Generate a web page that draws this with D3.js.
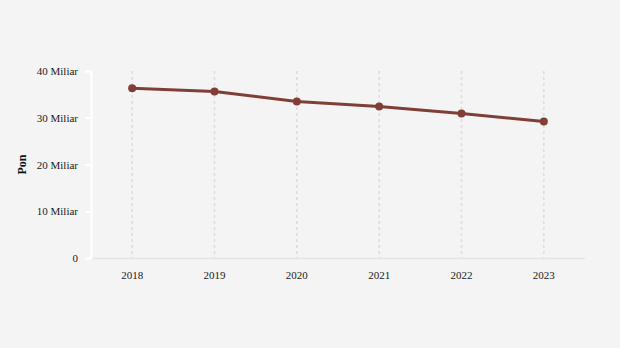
<!DOCTYPE html>
<html>
<head>
<meta charset="utf-8">
<script src="https://cdn.jsdelivr.net/npm/d3@7"></script>
<style>
  html, body { margin: 0; padding: 0; background: #f4f4f4; }
  svg { display: block; font-family: "Liberation Serif", "DejaVu Serif", serif; }
</style>
</head>
<body>
<svg id="chart" width="620" height="348"></svg>
<script>
// Annual values (in Pon) per year
const years = ["2018", "2019", "2020", "2021", "2022", "2023"];
const values = [36.3e9, 35.6e9, 33.5e9, 32.4e9, 30.9e9, 29.2e9];
const yTicks = [0, 10e9, 20e9, 30e9, 40e9];
const yTickLabels = ["0", "10 Miliar", "20 Miliar", "30 Miliar", "40 Miliar"];
const yTitle = "Pon";

const svg = d3.select("#chart");
const plotLeft = 91, plotRight = 585, plotTop = 71, plotBottom = 258;

const x = d3.scaleBand().domain(years).range([plotLeft, plotRight]);
const y = d3.scaleLinear().domain([0, 40e9]).range([plotBottom, plotTop]);
const cx = d => x(d) + x.bandwidth() / 2;

// vertical dashed grid at each year
svg.append("g").selectAll("line").data(years).join("line")
  .attr("x1", cx).attr("x2", cx)
  .attr("y1", plotTop).attr("y2", plotBottom)
  .attr("stroke", "#dcdcdc").attr("stroke-width", 1.5)
  .attr("stroke-dasharray", "3,3");

// x axis baseline
svg.append("line")
  .attr("x1", plotLeft).attr("x2", plotRight)
  .attr("y1", plotBottom + 0.5).attr("y2", plotBottom + 0.5)
  .attr("stroke", "#e4e4e4").attr("stroke-width", 1.5);

// x tick labels
const xAxis = svg.append("g")
  .attr("transform", `translate(0,${plotBottom})`)
  .call(d3.axisBottom(x).tickSize(0).tickPadding(13));
xAxis.select(".domain").remove();
xAxis.selectAll("text").attr("font-size", 11).attr("fill", "#1a1a1a")
  .style("font-family", "'Liberation Serif', serif");

// y axis
const yAxis = svg.append("g")
  .attr("transform", `translate(${plotLeft},0)`)
  .call(d3.axisLeft(y).tickValues(yTicks)
    .tickFormat((d, i) => yTickLabels[i]).tickSize(6).tickSizeOuter(6).tickPadding(7));
yAxis.select(".domain").attr("stroke", "#ffffff").attr("stroke-width", 2);
yAxis.selectAll(".tick line").attr("stroke", "#ffffff").attr("stroke-width", 2);
yAxis.selectAll("text").attr("font-size", 11).attr("fill", "#1a1a1a")
  .style("font-family", "'Liberation Serif', serif");

// y axis title
svg.append("text")
  .attr("transform", `translate(26,${(plotTop + plotBottom) / 2}) rotate(-90)`)
  .attr("text-anchor", "middle")
  .attr("font-size", 12).attr("font-weight", "bold").attr("fill", "#111")
  .text(yTitle);

// line and points
const data = years.map((yr, i) => ({ yr, v: values[i] }));
svg.append("path").datum(data)
  .attr("fill", "none").attr("stroke", "#7f3f37").attr("stroke-width", 3)
  .attr("stroke-linejoin", "round")
  .attr("d", d3.line().x(d => cx(d.yr)).y(d => y(d.v)));

svg.append("g").selectAll("circle").data(data).join("circle")
  .attr("cx", d => cx(d.yr)).attr("cy", d => y(d.v)).attr("r", 4)
  .attr("fill", "#7f3f37");
</script>
</body>
</html>
